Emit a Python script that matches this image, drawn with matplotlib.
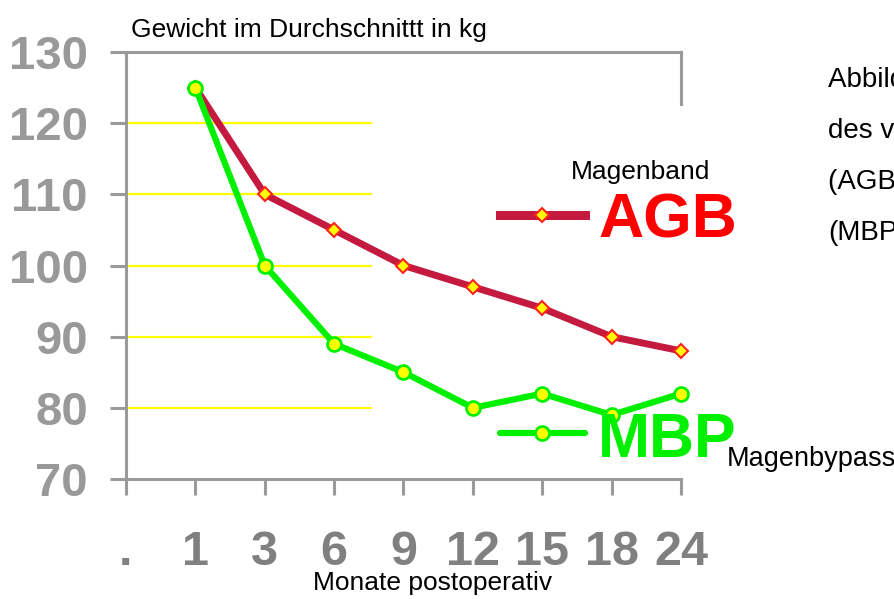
import matplotlib
matplotlib.use('Agg')
import numpy as np
from matplotlib import pyplot as plt
from matplotlib.lines import Line2D

plt.rcParams['font.family'] = ['Liberation Sans', 'DejaVu Sans']

# data
monate = [".", "1", "3", "6", "9", "12", "15", "18", "24"]
agb = [125, 110, 105, 100, 97, 94, 90, 88]      # Magenband
mbp = [125, 100, 89, 85, 80, 82, 79, 82]        # Magenbypass
y_ticks = [70, 80, 90, 100, 110, 120, 130]
grid_y = [80, 90, 100, 110, 120]

W, H = 895, 599
fig = plt.figure(figsize=(W / 100, H / 100), dpi=100)
ax = fig.add_axes([126 / W, 1 - 479 / H, (681 - 126) / W, (479 - 52) / H])

gray = '#9a9a9a'
pos = np.arange(1, len(monate))

# gelbe Hilfslinien nur links
ax.hlines(grid_y, 0, 3.55, colors='#ffff00', lw=1.6, zorder=1)

ax.plot(pos, agb, color='#c41a3f', lw=5, marker='D', ms=7,
        mfc='#ffff00', mec='#ff2020', mew=1.5, zorder=3, clip_on=False)
ax.plot(pos, mbp, color='#00f000', lw=4.5, marker='o', ms=10,
        mfc='#ffff00', mec='#00f000', mew=2, zorder=4, clip_on=False)

ax.set_xlim(0, 8)
ax.set_ylim(70, 130)
ax.set_xticks(np.arange(len(monate)))
ax.set_xticklabels(monate)
ax.set_yticks(y_ticks)

for s in ['left', 'top', 'bottom', 'right']:
    ax.spines[s].set_color(gray)
    ax.spines[s].set_linewidth(2.2)
ax.spines['right'].set_bounds(122.7, 130)

ax.tick_params(axis='y', length=11.5, width=2.2, color=gray, pad=16,
               labelsize=34, labelcolor='#999999')
ax.tick_params(axis='x', length=11.5, width=2.2, color=gray, pad=25,
               labelsize=35, labelcolor='#808080')
for lab in ax.get_xticklabels() + ax.get_yticklabels():
    lab.set_fontweight('bold')

# Texte
fig.text(131 / W, 1 - 37 / H, "Gewicht im Durchschnittt in kg", fontsize=19,
         va='baseline', ha='left')
fig.text(433 / W, 1 - 590 / H, "Monate postoperativ", fontsize=19,
         va='baseline', ha='center')

# Legende von Hand
fig.add_artist(Line2D([500 / W, 585 / W], [1 - 215 / H] * 2, color='#c41a3f', lw=6.5))
fig.add_artist(Line2D([542 / W], [1 - 215 / H], marker='D', ms=7, mfc='#ffff00',
                      mec='#ff2020', mew=1.5, lw=0))
fig.add_artist(Line2D([500 / W, 585 / W], [1 - 433 / H] * 2, color='#00f000', lw=4.5,
                      solid_capstyle='round'))
fig.add_artist(Line2D([542 / W], [1 - 433 / H], marker='o', ms=10, mfc='#ffff00',
                      mec='#00f000', mew=2, lw=0))
fig.text(641 / W, 1 - 179 / H, "Magenband", fontsize=19, va='baseline', ha='center')
fig.text(598 / W, 1 - 238 / H, "AGB", fontsize=45, fontweight='bold', color='#ff0000',
         va='baseline', ha='left')
fig.text(598 / W, 1 - 457 / H, "MBP", fontsize=45, fontweight='bold', color='#00f000',
         va='baseline', ha='left')
fig.text(727 / W, 1 - 466 / H, "Magenbypass", fontsize=19.5, va='baseline', ha='left')

# Bildunterschrift rechts (im Original am Rand abgeschnitten)
caption = ["Abbildung: Gewichtsverlauf", "des von Patienten mit", "(AGB) und Magenbypass",
           "(MBP)"]
for i, line in enumerate(caption):
    fig.text(828 / W, 1 - (87 + 51 * i) / H, line, fontsize=20, va='baseline', ha='left')

fig.savefig('out.png', dpi=100)
